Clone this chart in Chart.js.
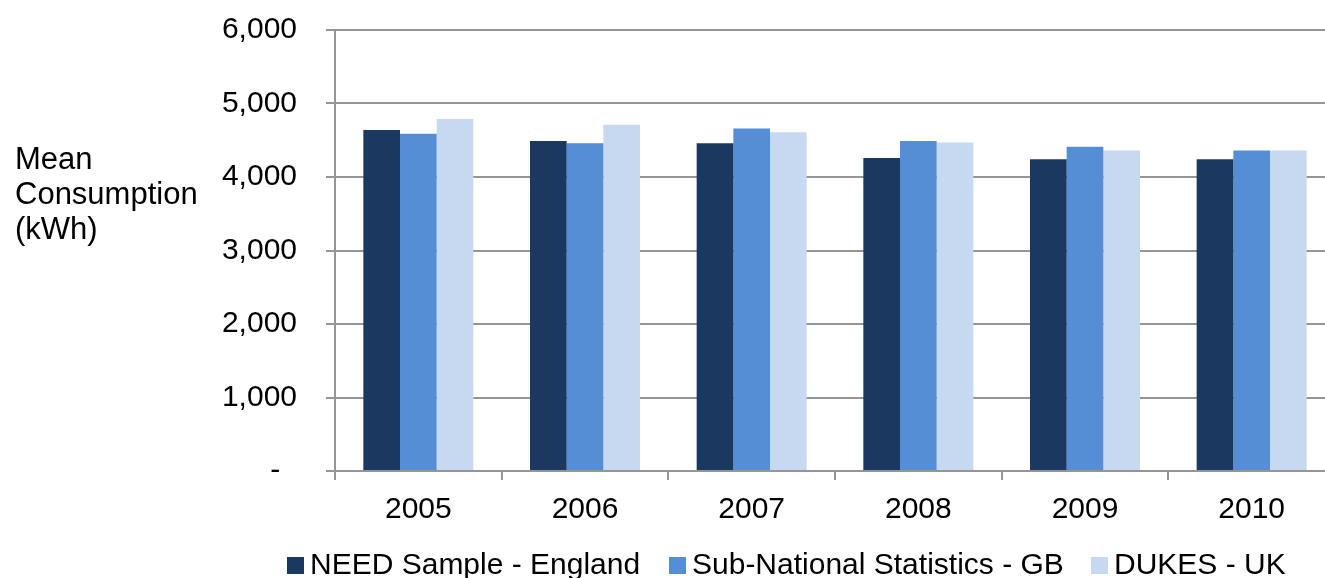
<!DOCTYPE html>
<html>
<head>
<meta charset="utf-8">
<script src="https://cdn.jsdelivr.net/npm/chart.js@4.4.0/dist/chart.umd.min.js"></script>
<style>
  html, body { margin: 0; padding: 0; overflow: hidden; background: #fff; width: 1325px; height: 578px; }
  #wrap { position: absolute; left: 0; top: 0; width: 1335px; height: 578px; }
  #ylabel { position: absolute; left: 15px; top: 141px; font: 31px "Liberation Sans", Arial, sans-serif; line-height: 35px; color: #000; white-space: nowrap; }
  .lg-box { position: absolute; top: 557px; width: 17px; height: 17px; }
  .lg-txt { position: absolute; top: 549px; font: 30px "Liberation Sans", Arial, sans-serif; line-height: 30px; color: #000; white-space: nowrap; }
</style>
</head>
<body>
<div id="wrap"><canvas id="c"></canvas></div>
<div id="ylabel">Mean<br>Consumption<br>(kWh)</div>
<div id="legend"></div>
<script>
const categories = ["2005", "2006", "2007", "2008", "2009", "2010"];
const seriesNames = ["NEED Sample - England", "Sub-National Statistics - GB", "DUKES - UK"];
const needEngland = [4640, 4490, 4460, 4260, 4240, 4240];
const subNationalGB = [4590, 4460, 4660, 4490, 4410, 4360];
const dukesUK = [4790, 4710, 4610, 4470, 4360, 4360];
const seriesColors = ["#1B3860", "#558ED5", "#C6D9F1"];
const yTicks = [0, 1000, 2000, 3000, 4000, 5000, 6000];

const FONT = "'Liberation Sans', Arial, sans-serif";
const gridColor = "#959595";

const seriesValues = [needEngland, subNationalGB, dukesUK];

new Chart(document.getElementById("c"), {
  type: "bar",
  data: {
    labels: categories,
    datasets: seriesNames.map((n, i) => ({
      label: n,
      data: seriesValues[i],
      backgroundColor: seriesColors[i],
      borderWidth: 0,
      barPercentage: 1.0,
      categoryPercentage: 0.66
    }))
  },
  options: {
    responsive: true,
    maintainAspectRatio: false,
    animation: false,
    devicePixelRatio: 1,
    layout: { padding: { top: 30, left: 0, right: 0, bottom: 0 } },
    plugins: { legend: { display: false }, tooltip: { enabled: false } },
    scales: {
      x: {
        grid: { display: true, drawOnChartArea: false, drawTicks: true, tickLength: 9, color: gridColor, lineWidth: 2, offset: true },
        border: { display: true, color: gridColor, width: 2 },
        ticks: { font: { family: FONT, size: 30 }, color: "#000", padding: 12, maxRotation: 0 },
        afterFit(scale) { scale.height = 107; scale.paddingLeft = 0; scale.paddingRight = 0; }
      },
      y: {
        min: 0, max: 6000,
        afterBuildTicks(scale) { scale.ticks = yTicks.map(v => ({ value: v })); },
        grid: { color: gridColor, lineWidth: 2, tickLength: 9, drawTicks: true },
        border: { display: true, color: gridColor, width: 2 },
        ticks: {
          font: { family: FONT, size: 30 }, color: "#000", padding: 29,
          callback: v => v === 0 ? "-  " : v.toLocaleString("en-US")
        },
        afterFit(scale) { scale.width = 335; scale.paddingTop = 0; scale.paddingBottom = 0; }
      }
    }
  }
});

// HTML legend built from series arrays
const legendLefts = [287, 669, 1091];
const lg = document.getElementById("legend");
seriesNames.forEach((n, i) => {
  const b = document.createElement("div");
  b.className = "lg-box";
  b.style.left = legendLefts[i] + "px";
  b.style.background = seriesColors[i];
  lg.appendChild(b);
  const t = document.createElement("div");
  t.className = "lg-txt";
  t.style.left = (legendLefts[i] + 23) + "px";
  t.textContent = n;
  lg.appendChild(t);
});
</script>
</body>
</html>
